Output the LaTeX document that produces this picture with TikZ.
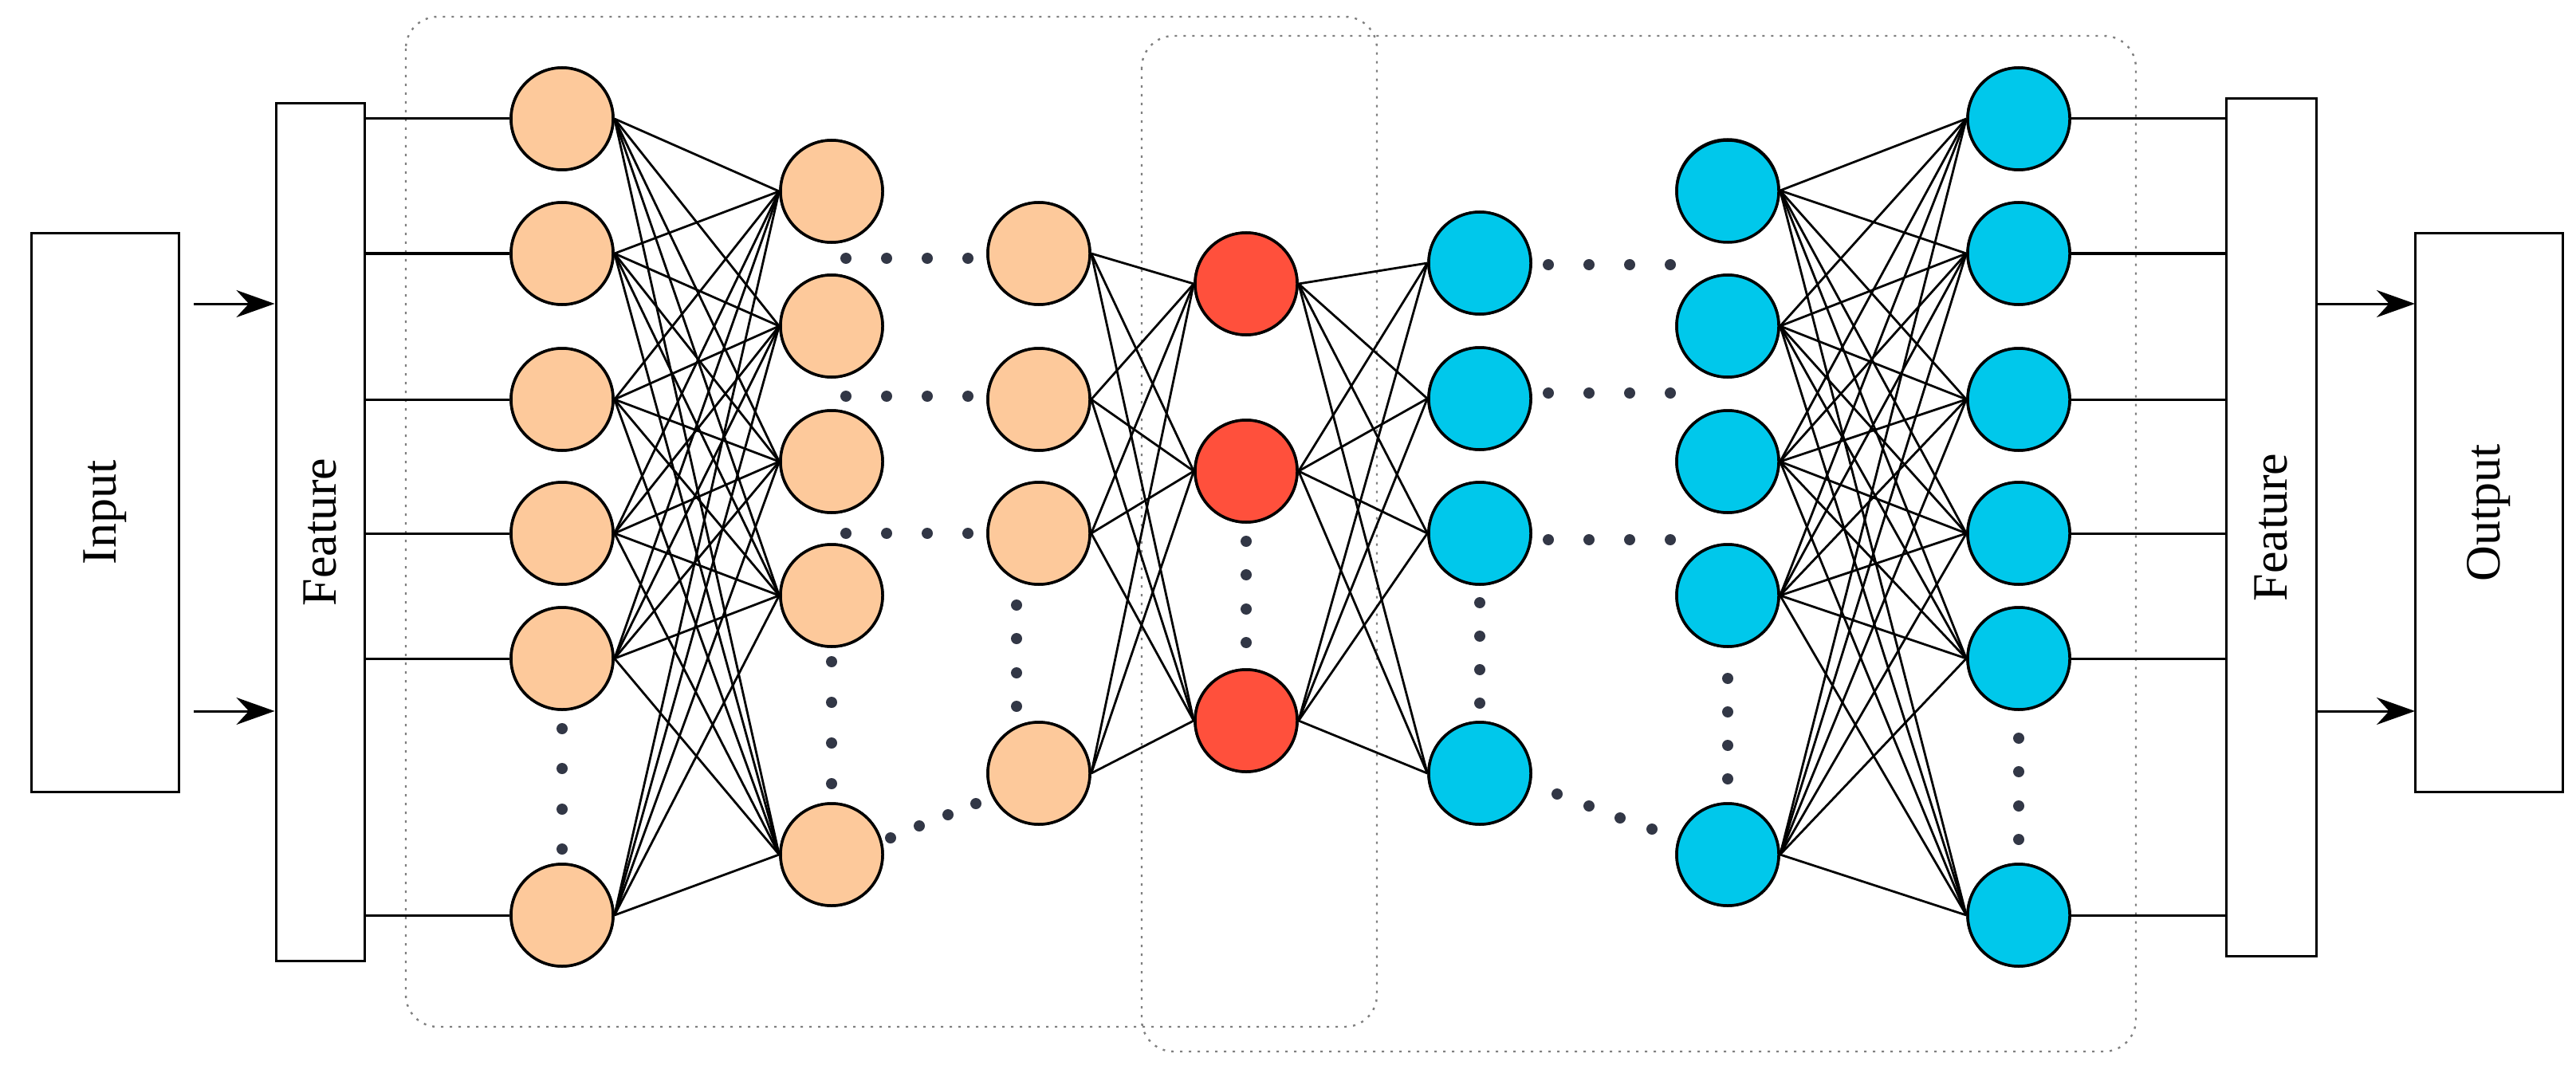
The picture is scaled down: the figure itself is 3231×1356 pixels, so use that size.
\documentclass[tikz,border=0pt]{standalone}
\usepackage{fontspec}
\setmainfont{Liberation Serif}
\usetikzlibrary{arrows.meta}
\begin{document}
\begin{tikzpicture}[x=1pt,y=-1pt,
 nd/.style={circle,draw=black,line width=3.5pt,minimum size=128pt,inner sep=0pt},
 peach/.style={nd,fill={rgb,255:red,253;green,201;blue,155}},
 redn/.style={nd,fill={rgb,255:red,255;green,80;blue,60}},
 blue/.style={nd,fill={rgb,255:red,0;green,200;blue,235}},
 box/.style={draw=black,line width=3pt,inner sep=0pt},
 lk/.style={line width=3pt},
 wl/.style={line width=2.8pt},
 dt/.style={circle,fill={rgb,255:red,50;green,55;blue,70},inner sep=0pt,minimum size=14pt},
 lbl/.style={font=\fontsize{62}{70}\selectfont,rotate=90},
 dsh/.style={draw=gray,line width=2.4pt,dash pattern=on 3pt off 8pt,rounded corners=40pt},
 ar/.style={lk,-{Stealth[length=48pt,width=34pt]}}]
\useasboundingbox (0,0) rectangle (3231,1356);
% dashed groups
\draw[dsh] (509,21) rectangle (1727,1288);
\draw[dsh] (1432,45) rectangle (2679,1319);
% boxes
\node[box,minimum width=185pt,minimum height=700pt] (in) at (131.5,643) {};
\node[lbl] at (in) {Input};
\node[box,minimum width=111pt,minimum height=1075pt] (f1) at (401.5,667.5) {};
\node[lbl] at (f1) {Feature};
\node[box,minimum width=113pt,minimum height=1075pt] (f2) at (2848.5,661.5) {};
\node[lbl] at (f2) {Feature};
\node[box,minimum width=185pt,minimum height=700pt] (out) at (3121.5,643) {};
\node[lbl] at (out) {Output};
\coordinate (a1) at (243,381); \coordinate (a2) at (243,892);
\coordinate (b1) at (3029,381); \coordinate (b2) at (3029,892);
\draw[ar] (a1) -- (a1 -| f1.west);
\draw[ar] (a2) -- (a2 -| f1.west);
\draw[ar] (b1 -| f2.east) -- (b1);
\draw[ar] (b2 -| f2.east) -- (b2);
% nodes
\foreach \y [count=\i] in {149,318,501,669,826,1148} \node[peach] (A\i) at (705,\y) {};
\foreach \y [count=\i] in {240,409,579,747,1072} \node[peach] (B\i) at (1043,\y) {};
\foreach \y [count=\i] in {318,501,669,970} \node[peach] (C\i) at (1303,\y) {};
\foreach \y [count=\i] in {356,591,904} \node[redn] (R\i) at (1563,\y) {};
\foreach \y [count=\i] in {330,500,669,970} \node[blue] (D\i) at (1856,\y) {};
\foreach \y [count=\i] in {239,409,579,747,1072} \node[blue] (E\i) at (2167,\y) {};
\foreach \y [count=\i] in {149,318,501,669,826,1148} \node[blue] (F\i) at (2532,\y) {};
% links
\foreach \i in {1,...,6} {
 \draw[lk] (A\i.west -| f1.east) -- (A\i.west);
 \draw[lk] (F\i.east) -- (F\i.east -| f2.west);
 \foreach \j in {1,...,5} {\draw[wl] (A\i.east) -- (B\j.west); \draw[wl] (E\j.east) -- (F\i.west);}}
\foreach \i in {1,...,4} \foreach \j in {1,...,3} {\draw[wl] (C\i.east) -- (R\j.west); \draw[wl] (R\j.east) -- (D\i.west);}
% redraw nodes on top
\foreach \y in {149,318,501,669,826,1148} {\node[peach] at (705,\y) {}; \node[blue] at (2532,\y) {};}
\foreach \y in {240,409,579,747,1072} {\node[peach] at (1043,\y) {}; \node[blue] at (2167,\y) {};}
\foreach \y in {318,501,669,970} \node[peach] at (1303,\y) {};
\foreach \y in {356,591,904} \node[redn] at (1563,\y) {};
\foreach \y in {330,500,669,970} \node[blue] at (1856,\y) {};
% dots
\foreach \y in {324,497,669} \foreach \x in {1061,1112,1163,1214} \node[dt] at (\x,\y) {};
\foreach \y in {332,493,677} \foreach \x in {1942,1993,2044,2095} \node[dt] at (\x,\y) {};
\foreach \y in {914,964,1015,1065} \node[dt] at (705,\y) {};
\foreach \y in {830,881,932,983} \node[dt] at (1043,\y) {};
\foreach \y in {759,801,844,886} \node[dt] at (1275,\y) {};
\foreach \y in {679,721,764,806} \node[dt] at (1563,\y) {};
\foreach \y in {756,798,840,882} \node[dt] at (1856,\y) {};
\foreach \y in {851,893,935,977} \node[dt] at (2167,\y) {};
\foreach \y in {926,968,1011,1053} \node[dt] at (2532,\y) {};
\foreach \x/\y in {1117/1051,1153/1036,1189/1022,1224/1008,1953/996,1993/1011,2032/1026,2072/1040} \node[dt] at (\x,\y) {};
\end{tikzpicture}
\end{document}
